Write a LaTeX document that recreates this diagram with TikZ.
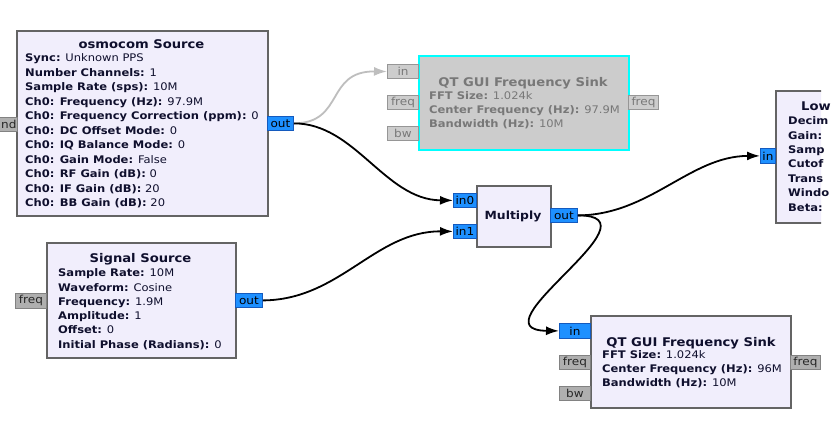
\documentclass[tikz,border=0pt]{standalone}
\usepackage{fontspec}
\setmainfont[FakeStretch=1.1]{DejaVu Sans}
\usetikzlibrary{arrows.meta}
\definecolor{blkfill}{RGB}{241,238,252}
\definecolor{blkline}{RGB}{100,100,100}
\definecolor{portblue}{RGB}{30,144,255}
\definecolor{portblueline}{RGB}{20,90,190}
\definecolor{portgray}{RGB}{175,175,175}
\definecolor{portgrayline}{RGB}{130,130,130}
\definecolor{dportfill}{RGB}{205,205,205}
\definecolor{dportline}{RGB}{150,150,150}
\definecolor{disfill}{RGB}{204,204,204}
\definecolor{discyan}{RGB}{0,255,255}
\definecolor{distext}{RGB}{120,120,120}
\definecolor{keytext}{RGB}{15,15,45}
\definecolor{gconn}{RGB}{190,190,190}
\newcommand\bodyf{\fontsize{10.5}{14.4}\selectfont}
\newcommand\titlef{\fontsize{12}{15}\selectfont\bfseries}
\newcommand\portf{\fontsize{11}{12}\selectfont}
\tikzset{
  blk/.style={draw=blkline, line width=1.6bp, fill=blkfill, inner sep=0pt, anchor=north west},
  dblk/.style={draw=discyan, line width=1.8bp, fill=disfill, inner sep=0pt, anchor=north west},
  bport/.style={draw=portblueline, line width=0.8bp, fill=portblue, inner sep=0pt, anchor=north west, font=\portf, text=black},
  gport/.style={draw=portgrayline, line width=0.8bp, fill=portgray, inner sep=0pt, anchor=north west, font=\portf, text=black!85},
  dport/.style={draw=dportline, line width=1bp, fill=dportfill, inner sep=0pt, anchor=north west, font=\portf, text=distext},
  ttl/.style={inner sep=0pt, anchor=base, font=\titlef, text=keytext},
  ln/.style={inner sep=0pt, anchor=base west, font=\bodyf, text=keytext},
  dttl/.style={ttl, text=distext},
  dln/.style={ln, text=distext},
  conn/.style={line width=1.8bp, black, -{Latex[length=13bp,width=9bp]}},
  gconnst/.style={line width=1.8bp, gconn, -{Latex[length=13bp,width=9bp]}}
}
\begin{document}
\begin{tikzpicture}[x=1bp, y=-1bp]
\useasboundingbox (0,0) rectangle (837,425);
\fill[white] (0,0) rectangle (837,425);
\begin{scope}
\clip (0,0) rectangle (821,425);

% ---------- osmocom Source ----------
\node[blk, minimum width=251bp, minimum height=185bp] (osmo) at (16,30) {};
\node[ttl] (osmo-t) at (141.5,48.7) {osmocom Source};
\foreach \t [count=\i from 0] in {
  {\textbf{Sync:} Unknown PPS},
  {\textbf{Number Channels:} 1},
  {\textbf{Sample Rate (sps):} 10M},
  {\textbf{Ch0: Frequency (Hz):} 97.9M},
  {\textbf{Ch0: Frequency Correction (ppm):} 0},
  {\textbf{Ch0: DC Offset Mode:} 0},
  {\textbf{Ch0: IQ Balance Mode:} 0},
  {\textbf{Ch0: Gain Mode:} False},
  {\textbf{Ch0: RF Gain (dB):} 0},
  {\textbf{Ch0: IF Gain (dB):} 20},
  {\textbf{Ch0: BB Gain (dB):} 20}}
  \node[ln] (osmo-l\i) at (25,{61.7+14.5*\i}) {\t};
\node[gport, minimum width=24bp, minimum height=14bp, text width=22bp, align=right] (osmo-cmd) at (-7,117) {nd};
\node[bport, minimum width=26bp, minimum height=14bp] (osmo-out) at (267,116) {out};

% ---------- QT GUI Frequency Sink (disabled) ----------
\node[dblk, minimum width=210bp, minimum height=94bp] (qt1) at (418,55) {};
\node[dttl] (qt1-t) at (523,86.5) {QT GUI Frequency Sink};
\node[dln] (qt1-l0) at (429,99.7) {\textbf{FFT Size:} 1.024k};
\node[dln] (qt1-l1) at (429,113.7) {\textbf{Center Frequency (Hz):} 97.9M};
\node[dln] (qt1-l2) at (429,127.7) {\textbf{Bandwidth (Hz):} 10M};
\node[dport, minimum width=31bp, minimum height=14bp] (qt1-in) at (387,64) {in};
\node[dport, minimum width=31bp, minimum height=14bp] (qt1-freq) at (387,95) {freq};
\node[dport, minimum width=31bp, minimum height=14bp] (qt1-bw) at (387,126) {bw};
\node[dport, minimum width=30bp, minimum height=14bp] (qt1-fout) at (628,95) {freq};

% ---------- Multiply ----------
\node[blk, minimum width=74bp, minimum height=61bp] (mul) at (476,185) {};
\node[ttl, anchor=center, font=\fontsize{11.3}{13}\selectfont\bfseries] (mul-t) at (513,216) {Multiply};
\node[bport, minimum width=23bp, minimum height=14bp] (mul-in0) at (453,193) {in0};
\node[bport, minimum width=23bp, minimum height=14bp] (mul-in1) at (453,224) {in1};
\node[bport, minimum width=27bp, minimum height=14bp] (mul-out) at (550,208) {out};

% ---------- Signal Source ----------
\node[blk, minimum width=189bp, minimum height=115bp] (sig) at (46,242) {};
\node[ttl] (sig-t) at (140.5,262.5) {Signal Source};
\foreach \t [count=\i from 0] in {
  {\textbf{Sample Rate:} 10M},
  {\textbf{Waveform:} Cosine},
  {\textbf{Frequency:} 1.9M},
  {\textbf{Amplitude:} 1},
  {\textbf{Offset:} 0},
  {\textbf{Initial Phase (Radians):} 0}}
  \node[ln] (sig-l\i) at (58,{276.7+14.3*\i}) {\t};
\node[gport, minimum width=31bp, minimum height=15bp] (sig-freq) at (15,293) {freq};
\node[bport, minimum width=27bp, minimum height=14bp] (sig-out) at (235,293) {out};

% ---------- QT GUI Frequency Sink ----------
\node[blk, minimum width=200bp, minimum height=92bp] (qt2) at (590,315) {};
\node[ttl] (qt2-t) at (691,346.5) {QT GUI Frequency Sink};
\node[ln] (qt2-l0) at (602,358.7) {\textbf{FFT Size:} 1.024k};
\node[ln] (qt2-l1) at (602,372.7) {\textbf{Center Frequency (Hz):} 96M};
\node[ln] (qt2-l2) at (602,386.7) {\textbf{Bandwidth (Hz):} 10M};
\node[bport, minimum width=31bp, minimum height=15bp] (qt2-in) at (559,323) {in};
\node[gport, minimum width=31bp, minimum height=14bp] (qt2-freq) at (559,355) {freq};
\node[gport, minimum width=31bp, minimum height=14bp] (qt2-bw) at (559,386) {bw};
\node[gport, minimum width=30bp, minimum height=14bp] (qt2-fout) at (790,355) {freq};

% ---------- Low Pass Filter (cut off at the right edge) ----------
\node[blk, minimum width=180bp, minimum height=132bp] (lpf) at (775,90) {};
\end{scope}
\node[ttl, anchor=base west] (lpf-t) at (801,110.5) {Low};
\foreach \t [count=\i from 0] in {Decim, Gain:, Samp, Cutof, Trans, Windo, Beta:}
  \node[ln, font=\bodyf\bfseries] (lpf-l\i) at (788,{124.7+14.4*\i}) {\t};
\node[bport, minimum width=15bp, minimum height=15bp] (lpf-in) at (760,148) {in};

% ---------- connections ----------
\draw[gconnst] (osmo-out.east) .. controls (345,123) and (325,71) .. (qt1-in.west);
\draw[conn] (osmo-out.east) .. controls (355,123) and (385,200) .. (mul-in0.west);
\draw[conn] (sig-out.east) .. controls (340,300) and (375,231) .. (mul-in1.west);
\draw[conn] (mul-out.east) .. controls (650,215) and (690,156) .. (lpf-in.west);
\draw[conn] (mul-out.east) .. controls (665,215) and (470,330) .. (qt2-in.west);
\end{tikzpicture}
\end{document}
